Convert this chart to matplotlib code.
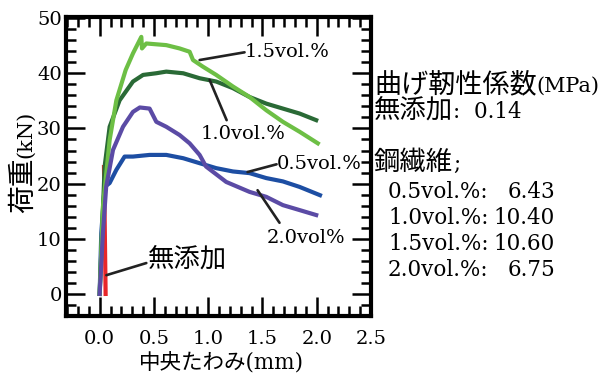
import matplotlib
matplotlib.use('Agg')
import matplotlib.pyplot as plt
from matplotlib.ticker import MultipleLocator, FormatStrFormatter

# 数値はDejaVu Serif、和文はNoto Sans CJK JPにフォールバック
plt.rcParams['font.family'] = ['DejaVu Serif', 'Noto Sans CJK JP']

W, H = 601, 378

# 荷重-たわみ曲線
x_none = [0.055, 0.04]
y_none = [0.0, 23.0]

x_05 = [0.0, 0.015, 0.046, 0.092, 0.154, 0.23, 0.307, 0.46, 0.614, 0.77, 0.921,
        1.074, 1.228, 1.381, 1.535, 1.688, 1.842, 2.03]
y_05 = [0.0, 11.0, 19.4, 20.1, 22.5, 24.9, 24.9, 25.2, 25.2, 24.6, 23.7,
        22.8, 22.2, 21.9, 21.0, 20.4, 19.4, 17.9]

x_10 = [0.0, 0.046, 0.092, 0.184, 0.307, 0.40, 0.52, 0.614, 0.77, 0.921, 1.074,
        1.228, 1.381, 1.535, 1.688, 1.842, 1.995]
y_10 = [0.0, 23.1, 30.3, 35.1, 38.5, 39.7, 40.0, 40.3, 40.0, 39.1, 38.5,
        37.3, 35.7, 34.5, 33.6, 32.7, 31.5]

x_15 = [0.0, 0.03, 0.092, 0.154, 0.24, 0.307, 0.384, 0.39, 0.43, 0.614, 0.737,
        0.829, 0.86, 0.951, 1.074, 1.228, 1.381, 1.535, 1.688, 1.842, 2.01]
y_15 = [0.0, 15.8, 27.9, 35.1, 40.6, 43.6, 46.6, 44.5, 45.4, 45.1, 44.5,
        43.9, 42.4, 41.2, 39.7, 37.6, 35.7, 33.3, 31.2, 29.4, 27.3]

x_20 = [0.0, 0.03, 0.06, 0.123, 0.215, 0.307, 0.37, 0.46, 0.522, 0.614, 0.737,
        0.829, 0.921, 0.98, 1.166, 1.381, 1.535, 1.688, 1.842, 1.995]
y_20 = [0.0, 11.0, 19.4, 26.1, 30.3, 33.0, 33.8, 33.6, 31.2, 30.3, 28.8,
        27.3, 25.2, 23.1, 20.3, 18.5, 17.6, 16.1, 15.2, 14.3]

# 曲げ靭性係数
fiber_labels = ['0.5vol.%', '1.0vol.%', '1.5vol.%', '2.0vol.%']
toughness = [6.43, 10.40, 10.60, 6.75]
toughness_none = 0.14

fig = plt.figure(figsize=(W / 100, H / 100), dpi=100)
ax = fig.add_axes([66 / W, 1 - 316 / H, 305 / W, 299 / H])

lw = 3.0
ax.plot(x_none, y_none, color='#e8262a', lw=lw)
ax.plot(x_05, y_05, color='#1d4ea3', lw=lw, solid_joinstyle='round')
ax.plot(x_10, y_10, color='#2a6a36', lw=lw, solid_joinstyle='round')
ax.plot(x_15, y_15, color='#6dbf45', lw=lw, solid_joinstyle='round')
ax.plot(x_20, y_20, color='#5b4ba5', lw=lw, solid_joinstyle='round')

# 引出し線とラベル
line = dict(arrowstyle='-', lw=1.9, color='#222222', shrinkA=0, shrinkB=0)
ax.annotate('', xy=(0.921, 42.4), xytext=(1.335, 43.8), arrowprops=line)
ax.text(1.335, 43.8, '1.5vol.%', fontsize=14, ha='left', va='center')
ax.annotate('', xy=(1.013, 38.8), xytext=(1.17, 31.5), arrowprops=line)
ax.text(1.317, 29.0, '1.0vol.%', fontsize=14, ha='center', va='center')
ax.annotate('', xy=(1.363, 22.1), xytext=(1.63, 23.5), arrowprops=line)
ax.text(1.635, 23.5, '0.5vol.%', fontsize=14, ha='left', va='center')
ax.annotate('', xy=(1.455, 18.8), xytext=(1.657, 12.9), arrowprops=line)
ax.text(1.897, 10.1, '2.0vol%', fontsize=14, ha='center', va='center')
ax.annotate('', xy=(0.062, 3.4), xytext=(0.43, 5.6), arrowprops=line)
ax.text(0.442, 6.3, '無添加', fontsize=19, ha='left', va='center')

ax.set_xlim(-0.31, 2.5)
ax.set_ylim(-4.0, 50.2)
ax.xaxis.set_major_locator(MultipleLocator(0.5))
ax.xaxis.set_minor_locator(MultipleLocator(0.1))
ax.yaxis.set_major_locator(MultipleLocator(10))
ax.yaxis.set_minor_locator(MultipleLocator(2))
ax.xaxis.set_major_formatter(FormatStrFormatter('%.1f'))
ax.tick_params(which='major', direction='in', length=14, width=1.8,
               top=True, right=True, labelsize=14)
ax.tick_params(which='minor', direction='in', length=7, width=1.8,
               top=True, right=True)
ax.tick_params(axis='x', which='major', pad=10)
ax.tick_params(axis='y', which='major', pad=3)
for s in ax.spines.values():
    s.set_linewidth(3)

ax.set_xlabel('中央たわみ(mm)', fontsize=15.5, va='top')
ax.xaxis.set_label_coords(0.51, -0.12)

# 和文と数字でサイズを変えて並べる (縦書きラベルにも使う)
renderer = fig.canvas.get_renderer()


def put_text(parts, x, y, rotation=0):
    for s, size in parts:
        t = fig.text(x / W, 1 - y / H, s, fontsize=size, va='baseline', ha='left',
                     rotation=rotation, rotation_mode='anchor')
        box = t.get_window_extent(renderer)
        if rotation == 90:
            y -= box.height
        else:
            x += box.width


put_text([('荷重', 20), ('(kN)', 15)], 31, 213, rotation=90)

# 右側の説明文
put_text([('曲げ靭性係数', 19.5), ('(MPa)', 15)], 374, 92)
put_text([('無添加', 19), (':  %.2f' % toughness_none, 15.5)], 374, 118)
put_text([('鋼繊維', 19), (';', 15.5)], 374, 170)
for i, (lab, v) in enumerate(zip(fiber_labels, toughness)):
    yb = 198 + 26 * i
    fig.text(388 / W, 1 - yb / H, lab + ':', fontsize=15.5, va='baseline', ha='left')
    fig.text(555 / W, 1 - yb / H, '%.2f' % v, fontsize=15.5, va='baseline', ha='right')

fig.savefig('out.png', dpi=100)
